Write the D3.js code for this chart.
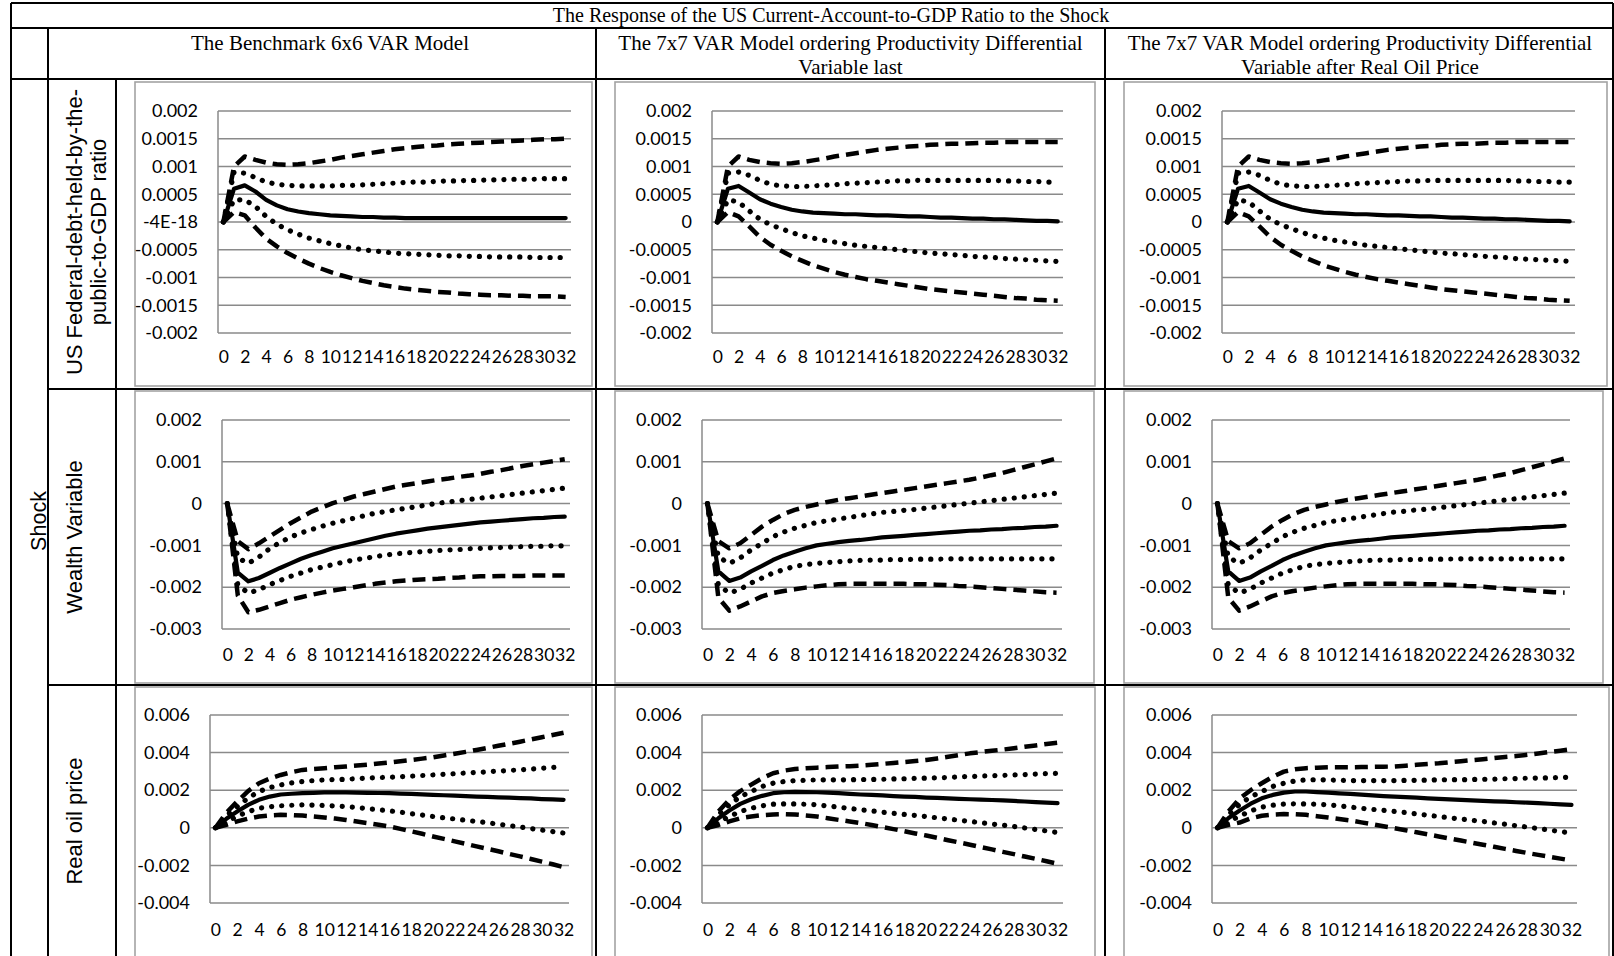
<!DOCTYPE html>
<html>
<head>
<meta charset="utf-8">
<script src="https://cdn.jsdelivr.net/npm/d3@7"></script>
<style>
  html, body { margin: 0; padding: 0; background: #fff; overflow: hidden; }
  svg { display: block; }
</style>
</head>
<body>
<svg id="fig" width="1614" height="956"></svg>
<script>
// ---------------------------------------------------------------------------
// Data: impulse responses of the US current-account-to-GDP ratio (horizons 0..32)
// irf = point estimate, hi1/lo1 = inner band (dotted), hi2/lo2 = outer band (dashed)
// ---------------------------------------------------------------------------
const periods = [0,1,2,3,4,5,6,7,8,9,10,11,12,13,14,15,16,17,18,19,20,21,22,23,24,25,26,27,28,29,30,31,32];
const xTickValues = [0,2,4,6,8,10,12,14,16,18,20,22,24,26,28,30,32];

const columnTitles = [
  ["The Benchmark 6x6 VAR Model"],
  ["The 7x7 VAR Model ordering Productivity Differential", "Variable last"],
  ["The 7x7 VAR Model ordering Productivity Differential", "Variable after Real Oil Price"]
];
const tableTitle = "The Response of the US Current-Account-to-GDP Ratio to the Shock";
const shockLabel = "Shock";
const rowLabels = [
  ["US Federal-debt-held-by-the-", "public-to-GDP ratio"],
  ["Wealth Variable"],
  ["Real oil price"]
];

// y-axis ticks per shock row
const debtTicks = [0.002, 0.0015, 0.001, 0.0005, 0, -0.0005, -0.001, -0.0015, -0.002];
const debtTickLabelsBench = ["0.002","0.0015","0.001","0.0005","-4E-18","-0.0005","-0.001","-0.0015","-0.002"];
const debtTickLabels = ["0.002","0.0015","0.001","0.0005","0","-0.0005","-0.001","-0.0015","-0.002"];
const wealthTicks = [0.002, 0.001, 0, -0.001, -0.002, -0.003];
const wealthTickLabels = ["0.002","0.001","0","-0.001","-0.002","-0.003"];
const oilTicks = [0.006, 0.004, 0.002, 0, -0.002, -0.004];
const oilTickLabels = ["0.006","0.004","0.002","0","-0.002","-0.004"];

// --- Federal debt shock, benchmark 6x6 VAR
const debt6_irf = [0,0.00060,0.00066,0.00055,0.00040,0.00030,0.00023,0.00019,0.00016,0.00014,0.00012,0.00011,0.00010,0.00009,0.00009,0.00008,0.00008,0.00007,0.00007,0.00007,0.00007,0.00007,0.00007,0.00007,0.00007,0.00007,0.00007,0.00007,0.00007,0.00007,0.00007,0.00007,0.00007];
const debt6_hi2 = [0,0.00100,0.00118,0.00112,0.00107,0.00104,0.00103,0.00104,0.00106,0.00109,0.00112,0.00116,0.00119,0.00122,0.00125,0.00128,0.00131,0.00133,0.00135,0.00137,0.00138,0.00140,0.00141,0.00142,0.00143,0.00144,0.00145,0.00146,0.00147,0.00148,0.00149,0.00149,0.00150];
const debt6_lo2 = [0,0.00018,0.00012,-0.00010,-0.00030,-0.00044,-0.00056,-0.00066,-0.00075,-0.00083,-0.00090,-0.00096,-0.00101,-0.00106,-0.00110,-0.00114,-0.00117,-0.00120,-0.00122,-0.00124,-0.00126,-0.00127,-0.00129,-0.00130,-0.00131,-0.00132,-0.00132,-0.00133,-0.00133,-0.00134,-0.00134,-0.00134,-0.00135];
const debt6_hi1 = [0,0.00090,0.00088,0.00080,0.00072,0.00068,0.00066,0.00065,0.00065,0.00065,0.00065,0.00066,0.00066,0.00067,0.00068,0.00069,0.00070,0.00071,0.00072,0.00072,0.00073,0.00074,0.00074,0.00075,0.00075,0.00076,0.00076,0.00077,0.00077,0.00077,0.00078,0.00078,0.00078];
const debt6_lo1 = [0,0.00040,0.00040,0.00028,0.00010,-0.00004,-0.00014,-0.00022,-0.00029,-0.00034,-0.00039,-0.00043,-0.00047,-0.00050,-0.00052,-0.00054,-0.00056,-0.00057,-0.00058,-0.00059,-0.00060,-0.00061,-0.00061,-0.00062,-0.00062,-0.00063,-0.00063,-0.00063,-0.00063,-0.00064,-0.00064,-0.00064,-0.00064];

// --- Federal debt shock, 7x7 VAR with productivity differential last
const debt7a_irf = [0,0.00060,0.00065,0.00053,0.00041,0.00033,0.00027,0.00022,0.00019,0.00017,0.00016,0.00015,0.00014,0.00014,0.00013,0.00012,0.00012,0.00011,0.00010,0.00010,0.00009,0.00008,0.00008,0.00007,0.00006,0.00006,0.00005,0.00005,0.00004,0.00003,0.00002,0.00002,0.00001];
const debt7a_hi2 = [0,0.00100,0.00118,0.00112,0.00108,0.00106,0.00105,0.00106,0.00108,0.00111,0.00114,0.00118,0.00121,0.00124,0.00127,0.00130,0.00132,0.00134,0.00136,0.00137,0.00139,0.00140,0.00141,0.00141,0.00142,0.00143,0.00143,0.00144,0.00144,0.00144,0.00144,0.00144,0.00144];
const debt7a_lo2 = [0,0.00018,0.00010,-0.00008,-0.00027,-0.00041,-0.00052,-0.00062,-0.00070,-0.00078,-0.00084,-0.00090,-0.00095,-0.00099,-0.00103,-0.00106,-0.00109,-0.00112,-0.00115,-0.00118,-0.00121,-0.00123,-0.00125,-0.00127,-0.00129,-0.00131,-0.00133,-0.00135,-0.00137,-0.00138,-0.00140,-0.00141,-0.00142];
const debt7a_hi1 = [0,0.00088,0.00090,0.00084,0.00075,0.00068,0.00065,0.00064,0.00064,0.00065,0.00066,0.00067,0.00069,0.00070,0.00071,0.00072,0.00073,0.00074,0.00074,0.00075,0.00075,0.00075,0.00075,0.00075,0.00075,0.00075,0.00075,0.00074,0.00074,0.00073,0.00073,0.00072,0.00072];
const debt7a_lo1 = [0,0.00040,0.00036,0.00020,0.00005,-0.00005,-0.00012,-0.00019,-0.00025,-0.00029,-0.00033,-0.00036,-0.00039,-0.00042,-0.00044,-0.00046,-0.00048,-0.00050,-0.00052,-0.00054,-0.00056,-0.00057,-0.00059,-0.00060,-0.00062,-0.00063,-0.00064,-0.00066,-0.00067,-0.00068,-0.00069,-0.00070,-0.00071];

// --- Federal debt shock, 7x7 VAR with productivity differential after oil price
const debt7b_irf = [0,0.00060,0.00065,0.00053,0.00041,0.00033,0.00027,0.00022,0.00019,0.00017,0.00016,0.00015,0.00014,0.00014,0.00013,0.00012,0.00012,0.00011,0.00010,0.00010,0.00009,0.00008,0.00008,0.00007,0.00006,0.00006,0.00005,0.00005,0.00004,0.00003,0.00002,0.00002,0.00001];
const debt7b_hi2 = [0,0.00100,0.00118,0.00112,0.00108,0.00106,0.00105,0.00106,0.00108,0.00111,0.00114,0.00118,0.00121,0.00124,0.00127,0.00130,0.00132,0.00134,0.00136,0.00137,0.00139,0.00140,0.00141,0.00141,0.00142,0.00143,0.00143,0.00144,0.00144,0.00144,0.00144,0.00144,0.00144];
const debt7b_lo2 = [0,0.00018,0.00010,-0.00008,-0.00027,-0.00041,-0.00052,-0.00062,-0.00070,-0.00078,-0.00084,-0.00090,-0.00095,-0.00099,-0.00103,-0.00106,-0.00109,-0.00112,-0.00115,-0.00118,-0.00121,-0.00123,-0.00125,-0.00127,-0.00129,-0.00131,-0.00133,-0.00135,-0.00137,-0.00138,-0.00140,-0.00141,-0.00142];
const debt7b_hi1 = [0,0.00088,0.00090,0.00084,0.00075,0.00068,0.00065,0.00064,0.00064,0.00065,0.00066,0.00067,0.00069,0.00070,0.00071,0.00072,0.00073,0.00074,0.00074,0.00075,0.00075,0.00075,0.00075,0.00075,0.00075,0.00075,0.00075,0.00074,0.00074,0.00073,0.00073,0.00072,0.00072];
const debt7b_lo1 = [0,0.00040,0.00036,0.00020,0.00005,-0.00005,-0.00012,-0.00019,-0.00025,-0.00029,-0.00033,-0.00036,-0.00039,-0.00042,-0.00044,-0.00046,-0.00048,-0.00050,-0.00052,-0.00054,-0.00056,-0.00057,-0.00059,-0.00060,-0.00062,-0.00063,-0.00064,-0.00066,-0.00067,-0.00068,-0.00069,-0.00070,-0.00071];

// --- Wealth shock, benchmark 6x6 VAR
const wealth6_irf = [0,-0.00165,-0.00186,-0.00178,-0.00166,-0.00154,-0.00143,-0.00132,-0.00123,-0.00115,-0.00107,-0.00101,-0.00095,-0.00089,-0.00083,-0.00077,-0.00072,-0.00068,-0.00064,-0.00060,-0.00057,-0.00054,-0.00051,-0.00048,-0.00045,-0.00043,-0.00041,-0.00039,-0.00037,-0.00035,-0.00034,-0.00032,-0.00031];
const wealth6_hi2 = [0,-0.00090,-0.00109,-0.00095,-0.00079,-0.00063,-0.00047,-0.00033,-0.00019,-0.00009,0.00001,0.00009,0.00017,0.00023,0.00029,0.00035,0.00041,0.00045,0.00049,0.00053,0.00057,0.00060,0.00064,0.00067,0.00071,0.00076,0.00080,0.00085,0.00090,0.00094,0.00098,0.00102,0.00106];
const wealth6_lo2 = [0,-0.00220,-0.00260,-0.00254,-0.00246,-0.00238,-0.00230,-0.00224,-0.00218,-0.00213,-0.00208,-0.00204,-0.00200,-0.00196,-0.00192,-0.00189,-0.00186,-0.00184,-0.00182,-0.00181,-0.00180,-0.00178,-0.00177,-0.00175,-0.00174,-0.00174,-0.00173,-0.00173,-0.00173,-0.00172,-0.00172,-0.00172,-0.00172];
const wealth6_hi1 = [0,-0.00130,-0.00143,-0.00128,-0.00108,-0.00093,-0.00080,-0.00070,-0.00062,-0.00054,-0.00047,-0.00041,-0.00035,-0.00029,-0.00023,-0.00019,-0.00015,-0.00011,-0.00007,-0.00003,0.00001,0.00004,0.00007,0.00010,0.00013,0.00016,0.00019,0.00022,0.00025,0.00028,0.00031,0.00034,0.00037];
const wealth6_lo1 = [0,-0.00195,-0.00214,-0.00206,-0.00194,-0.00184,-0.00174,-0.00166,-0.00158,-0.00152,-0.00146,-0.00140,-0.00135,-0.00131,-0.00127,-0.00123,-0.00120,-0.00118,-0.00116,-0.00114,-0.00112,-0.00111,-0.00110,-0.00108,-0.00107,-0.00106,-0.00105,-0.00104,-0.00103,-0.00102,-0.00102,-0.00101,-0.00101];

// --- Wealth shock, 7x7 VAR with productivity differential last
const wealth7a_irf = [0,-0.00162,-0.00185,-0.00177,-0.00162,-0.00149,-0.00135,-0.00124,-0.00115,-0.00107,-0.00100,-0.00096,-0.00092,-0.00089,-0.00087,-0.00084,-0.00081,-0.00079,-0.00077,-0.00075,-0.00073,-0.00071,-0.00069,-0.00067,-0.00065,-0.00064,-0.00062,-0.00061,-0.00059,-0.00058,-0.00056,-0.00055,-0.00053];
const wealth7a_hi2 = [0,-0.00090,-0.00107,-0.00095,-0.00075,-0.00055,-0.00039,-0.00025,-0.00015,-0.00008,-0.00002,0.00004,0.00009,0.00013,0.00017,0.00021,0.00025,0.00029,0.00033,0.00037,0.00041,0.00045,0.00049,0.00053,0.00057,0.00062,0.00068,0.00073,0.00080,0.00087,0.00094,0.00101,0.00108];
const wealth7a_lo2 = [0,-0.00225,-0.00256,-0.00246,-0.00234,-0.00222,-0.00214,-0.00209,-0.00205,-0.00201,-0.00198,-0.00195,-0.00193,-0.00192,-0.00192,-0.00192,-0.00192,-0.00192,-0.00192,-0.00193,-0.00193,-0.00194,-0.00195,-0.00197,-0.00198,-0.00200,-0.00202,-0.00204,-0.00206,-0.00208,-0.00210,-0.00212,-0.00213];
const wealth7a_hi1 = [0,-0.00128,-0.00143,-0.00130,-0.00111,-0.00095,-0.00079,-0.00068,-0.00059,-0.00052,-0.00045,-0.00041,-0.00037,-0.00033,-0.00029,-0.00025,-0.00021,-0.00019,-0.00016,-0.00014,-0.00011,-0.00008,-0.00005,-0.00002,0.00001,0.00004,0.00007,0.00010,0.00013,0.00016,0.00019,0.00022,0.00025];
const wealth7a_lo1 = [0,-0.00195,-0.00214,-0.00205,-0.00190,-0.00178,-0.00166,-0.00158,-0.00150,-0.00146,-0.00143,-0.00141,-0.00139,-0.00137,-0.00136,-0.00135,-0.00135,-0.00134,-0.00134,-0.00133,-0.00133,-0.00133,-0.00132,-0.00132,-0.00132,-0.00132,-0.00132,-0.00132,-0.00132,-0.00132,-0.00132,-0.00132,-0.00132];

// --- Wealth shock, 7x7 VAR with productivity differential after oil price
const wealth7b_irf = [0,-0.00162,-0.00185,-0.00177,-0.00162,-0.00149,-0.00135,-0.00124,-0.00115,-0.00107,-0.00100,-0.00096,-0.00092,-0.00089,-0.00087,-0.00084,-0.00081,-0.00079,-0.00077,-0.00075,-0.00073,-0.00071,-0.00069,-0.00067,-0.00065,-0.00064,-0.00062,-0.00061,-0.00059,-0.00058,-0.00056,-0.00055,-0.00053];
const wealth7b_hi2 = [0,-0.00090,-0.00107,-0.00095,-0.00075,-0.00055,-0.00039,-0.00025,-0.00015,-0.00008,-0.00002,0.00004,0.00009,0.00013,0.00017,0.00021,0.00025,0.00029,0.00033,0.00037,0.00041,0.00045,0.00049,0.00053,0.00057,0.00062,0.00068,0.00073,0.00080,0.00087,0.00094,0.00101,0.00108];
const wealth7b_lo2 = [0,-0.00225,-0.00256,-0.00246,-0.00234,-0.00222,-0.00214,-0.00209,-0.00205,-0.00201,-0.00198,-0.00195,-0.00193,-0.00192,-0.00192,-0.00192,-0.00192,-0.00192,-0.00192,-0.00193,-0.00193,-0.00194,-0.00195,-0.00197,-0.00198,-0.00200,-0.00202,-0.00204,-0.00206,-0.00208,-0.00210,-0.00212,-0.00213];
const wealth7b_hi1 = [0,-0.00128,-0.00143,-0.00130,-0.00111,-0.00095,-0.00079,-0.00068,-0.00059,-0.00052,-0.00045,-0.00041,-0.00037,-0.00033,-0.00029,-0.00025,-0.00021,-0.00019,-0.00016,-0.00014,-0.00011,-0.00008,-0.00005,-0.00002,0.00001,0.00004,0.00007,0.00010,0.00013,0.00016,0.00019,0.00022,0.00025];
const wealth7b_lo1 = [0,-0.00195,-0.00214,-0.00205,-0.00190,-0.00178,-0.00166,-0.00158,-0.00150,-0.00146,-0.00143,-0.00141,-0.00139,-0.00137,-0.00136,-0.00135,-0.00135,-0.00134,-0.00134,-0.00133,-0.00133,-0.00133,-0.00132,-0.00132,-0.00132,-0.00132,-0.00132,-0.00132,-0.00132,-0.00132,-0.00132,-0.00132,-0.00132];

// --- Real oil price shock, benchmark 6x6 VAR
const oil6_irf = [0,0.00048,0.00087,0.00122,0.00149,0.00166,0.00177,0.00181,0.00184,0.00186,0.00188,0.00188,0.00188,0.00187,0.00186,0.00185,0.00184,0.00182,0.00180,0.00178,0.00175,0.00173,0.00171,0.00168,0.00166,0.00164,0.00162,0.00160,0.00158,0.00156,0.00153,0.00151,0.00149];
const oil6_hi2 = [0,0.00080,0.00140,0.00195,0.00237,0.00262,0.00281,0.00296,0.00308,0.00313,0.00317,0.00322,0.00326,0.00331,0.00336,0.00342,0.00347,0.00354,0.00361,0.00368,0.00375,0.00385,0.00394,0.00404,0.00414,0.00425,0.00436,0.00447,0.00458,0.00470,0.00482,0.00494,0.00506];
const oil6_lo2 = [0,0.00016,0.00034,0.00049,0.00060,0.00066,0.00069,0.00068,0.00065,0.00060,0.00055,0.00049,0.00042,0.00033,0.00025,0.00016,0.00007,-0.00006,-0.00019,-0.00032,-0.00046,-0.00059,-0.00072,-0.00085,-0.00099,-0.00112,-0.00125,-0.00139,-0.00152,-0.00166,-0.00180,-0.00194,-0.00209];
const oil6_hi1 = [0,0.00064,0.00112,0.00158,0.00193,0.00214,0.00228,0.00239,0.00246,0.00251,0.00255,0.00257,0.00258,0.00261,0.00264,0.00267,0.00269,0.00272,0.00275,0.00278,0.00281,0.00284,0.00288,0.00291,0.00294,0.00298,0.00301,0.00305,0.00308,0.00312,0.00317,0.00321,0.00326];
const oil6_lo1 = [0,0.00032,0.00062,0.00086,0.00104,0.00112,0.00117,0.00120,0.00122,0.00121,0.00119,0.00116,0.00113,0.00108,0.00102,0.00096,0.00090,0.00083,0.00075,0.00068,0.00060,0.00053,0.00047,0.00040,0.00034,0.00027,0.00019,0.00012,0.00004,-0.00004,-0.00012,-0.00020,-0.00028];

// --- Real oil price shock, 7x7 VAR with productivity differential last
const oil7a_irf = [0,0.00051,0.00092,0.00127,0.00152,0.00170,0.00184,0.00189,0.00191,0.00190,0.00189,0.00187,0.00184,0.00180,0.00177,0.00175,0.00172,0.00169,0.00166,0.00164,0.00161,0.00159,0.00157,0.00154,0.00152,0.00150,0.00148,0.00146,0.00143,0.00140,0.00137,0.00134,0.00131];
const oil7a_hi2 = [0,0.00087,0.00150,0.00195,0.00230,0.00264,0.00290,0.00304,0.00313,0.00317,0.00320,0.00323,0.00326,0.00328,0.00331,0.00335,0.00340,0.00345,0.00350,0.00355,0.00361,0.00369,0.00378,0.00387,0.00396,0.00403,0.00410,0.00416,0.00423,0.00431,0.00438,0.00446,0.00453];
const oil7a_lo2 = [0,0.00015,0.00034,0.00051,0.00060,0.00067,0.00071,0.00073,0.00071,0.00066,0.00060,0.00051,0.00042,0.00034,0.00025,0.00015,0.00004,-0.00007,-0.00018,-0.00030,-0.00041,-0.00053,-0.00066,-0.00078,-0.00090,-0.00103,-0.00115,-0.00128,-0.00140,-0.00153,-0.00165,-0.00178,-0.00191];
const oil7a_hi1 = [0,0.00070,0.00122,0.00166,0.00193,0.00220,0.00237,0.00246,0.00251,0.00253,0.00255,0.00255,0.00255,0.00256,0.00257,0.00257,0.00258,0.00260,0.00261,0.00263,0.00264,0.00266,0.00268,0.00271,0.00273,0.00275,0.00277,0.00279,0.00281,0.00283,0.00286,0.00288,0.00290];
const oil7a_lo1 = [0,0.00032,0.00060,0.00087,0.00104,0.00117,0.00126,0.00127,0.00127,0.00125,0.00122,0.00116,0.00110,0.00103,0.00096,0.00090,0.00083,0.00077,0.00071,0.00066,0.00060,0.00053,0.00047,0.00040,0.00034,0.00027,0.00020,0.00014,0.00007,-0.00001,-0.00009,-0.00017,-0.00025];

// --- Real oil price shock, 7x7 VAR with productivity differential after oil price
const oil7b_irf = [0,0.00052,0.00092,0.00128,0.00157,0.00175,0.00187,0.00193,0.00193,0.00190,0.00187,0.00183,0.00180,0.00176,0.00172,0.00169,0.00166,0.00163,0.00160,0.00157,0.00154,0.00151,0.00149,0.00146,0.00143,0.00141,0.00139,0.00136,0.00134,0.00131,0.00128,0.00125,0.00122];
const oil7b_hi2 = [0,0.00088,0.00156,0.00200,0.00237,0.00272,0.00299,0.00311,0.00317,0.00320,0.00322,0.00322,0.00322,0.00323,0.00324,0.00325,0.00326,0.00330,0.00335,0.00339,0.00343,0.00349,0.00354,0.00360,0.00365,0.00371,0.00377,0.00382,0.00388,0.00395,0.00403,0.00410,0.00418];
const oil7b_lo2 = [0,0.00016,0.00028,0.00050,0.00064,0.00070,0.00073,0.00072,0.00069,0.00062,0.00055,0.00047,0.00039,0.00029,0.00019,0.00008,-0.00002,-0.00013,-0.00024,-0.00035,-0.00046,-0.00057,-0.00068,-0.00079,-0.00090,-0.00101,-0.00112,-0.00123,-0.00134,-0.00144,-0.00154,-0.00164,-0.00174];
const oil7b_hi1 = [0,0.00070,0.00125,0.00165,0.00193,0.00220,0.00237,0.00249,0.00255,0.00256,0.00255,0.00253,0.00251,0.00251,0.00251,0.00251,0.00251,0.00252,0.00253,0.00254,0.00255,0.00256,0.00256,0.00257,0.00258,0.00259,0.00261,0.00262,0.00264,0.00265,0.00266,0.00268,0.00269];
const oil7b_lo1 = [0,0.00034,0.00062,0.00090,0.00110,0.00120,0.00126,0.00128,0.00127,0.00125,0.00122,0.00117,0.00110,0.00104,0.00098,0.00093,0.00087,0.00081,0.00074,0.00067,0.00060,0.00053,0.00047,0.00040,0.00034,0.00026,0.00019,0.00011,0.00004,-0.00004,-0.00012,-0.00020,-0.00028];

// ---------------------------------------------------------------------------
// Table geometry
// ---------------------------------------------------------------------------
const TABLE = { left: 11, right: 1613, top: 3, titleBottom: 28, headBottom: 79 };
const colEdges = [116, 596, 1105, 1613];       // chart columns
const rowEdges = [79, 389, 685, 1000];         // shock rows
const shockColRight = 48;

const svg = d3.select("#fig");

// chart panels: box (outer frame) and plot area, per row / column
const panels = [
  // row 0: federal debt shock
  { r:0, c:0, box:[135,82,592,386], plot:[218,111,571,333], dom:[-0.002,0.002], ticks:debtTicks, labels:debtTickLabelsBench, xlab:24,
    s:{irf:debt6_irf, hi1:debt6_hi1, lo1:debt6_lo1, hi2:debt6_hi2, lo2:debt6_lo2} },
  { r:0, c:1, box:[615,82,1095,386], plot:[712,111,1063,333], dom:[-0.002,0.002], ticks:debtTicks, labels:debtTickLabels, xlab:24,
    s:{irf:debt7a_irf, hi1:debt7a_hi1, lo1:debt7a_lo1, hi2:debt7a_hi2, lo2:debt7a_lo2} },
  { r:0, c:2, box:[1124,82,1607,386], plot:[1222,111,1575,333], dom:[-0.002,0.002], ticks:debtTicks, labels:debtTickLabels, xlab:24,
    s:{irf:debt7b_irf, hi1:debt7b_hi1, lo1:debt7b_lo1, hi2:debt7b_hi2, lo2:debt7b_lo2} },
  // row 1: wealth shock
  { r:1, c:0, box:[135,391,592,683], plot:[222,420,570,629], dom:[-0.003,0.002], ticks:wealthTicks, labels:wealthTickLabels, xlab:26,
    s:{irf:wealth6_irf, hi1:wealth6_hi1, lo1:wealth6_lo1, hi2:wealth6_hi2, lo2:wealth6_lo2} },
  { r:1, c:1, box:[615,391,1094,683], plot:[702,420,1062,629], dom:[-0.003,0.002], ticks:wealthTicks, labels:wealthTickLabels, xlab:26,
    s:{irf:wealth7a_irf, hi1:wealth7a_hi1, lo1:wealth7a_lo1, hi2:wealth7a_hi2, lo2:wealth7a_lo2} },
  { r:1, c:2, box:[1124,391,1603,683], plot:[1212,420,1570,629], dom:[-0.003,0.002], ticks:wealthTicks, labels:wealthTickLabels, xlab:26,
    s:{irf:wealth7b_irf, hi1:wealth7b_hi1, lo1:wealth7b_lo1, hi2:wealth7b_hi2, lo2:wealth7b_lo2} },
  // row 2: real oil price shock
  { r:2, c:0, box:[135,687,592,980], plot:[210,715,569,903], dom:[-0.004,0.006], ticks:oilTicks, labels:oilTickLabels, xlab:27,
    s:{irf:oil6_irf, hi1:oil6_hi1, lo1:oil6_lo1, hi2:oil6_hi2, lo2:oil6_lo2} },
  { r:2, c:1, box:[615,687,1095,980], plot:[702,715,1063,903], dom:[-0.004,0.006], ticks:oilTicks, labels:oilTickLabels, xlab:27,
    s:{irf:oil7a_irf, hi1:oil7a_hi1, lo1:oil7a_lo1, hi2:oil7a_hi2, lo2:oil7a_lo2} },
  { r:2, c:2, box:[1124,687,1609,980], plot:[1212,715,1577,903], dom:[-0.004,0.006], ticks:oilTicks, labels:oilTickLabels, xlab:27,
    s:{irf:oil7b_irf, hi1:oil7b_hi1, lo1:oil7b_lo1, hi2:oil7b_hi2, lo2:oil7b_lo2} }
];

const GRID = "#8a8a8a", FRAME = "#a3a3a3";
const tickFont = "Lato, 'Open Sans', sans-serif";

function drawPanel(p) {
  const g = svg.append("g").attr("class", `panel r${p.r} c${p.c}`);
  const [bx0, by0, bx1, by1] = p.box;
  g.append("rect")
    .attr("x", bx0).attr("y", by0).attr("width", bx1 - bx0).attr("height", by1 - by0)
    .attr("fill", "#fff").attr("stroke", FRAME).attr("stroke-width", 1.6);

  const [px0, py0, px1, py1] = p.plot;
  const x = d3.scalePoint().domain(periods).range([px0, px1]).padding(0.5);
  const y = d3.scaleLinear().domain(p.dom).range([py1, py0]);

  // horizontal gridlines
  g.append("g").selectAll("line").data(p.ticks).join("line")
    .attr("x1", px0).attr("x2", px1)
    .attr("y1", d => y(d)).attr("y2", d => y(d))
    .attr("stroke", GRID).attr("stroke-width", 1.5);
  // value axis line
  g.append("line").attr("x1", px0).attr("x2", px0).attr("y1", py0).attr("y2", py1)
    .attr("stroke", GRID).attr("stroke-width", 1.5);

  // y tick labels
  const ya = g.append("g").attr("transform", `translate(${px0},0)`)
    .call(d3.axisLeft(y).tickValues(p.ticks).tickFormat((d, i) => p.labels[i]).tickSize(0).tickPadding(20));
  ya.select(".domain").remove();
  ya.selectAll("text").attr("font-family", tickFont).attr("font-size", 18).attr("fill", "#000");

  // x tick labels
  const xa = g.append("g").attr("transform", `translate(0,${py1})`)
    .call(d3.axisBottom(x).tickValues(xTickValues).tickSize(0).tickPadding(p.xlab - 6));
  xa.select(".domain").remove();
  xa.selectAll("text").attr("font-family", tickFont).attr("font-size", 17.5).attr("fill", "#000");

  const line = d3.line().x((d, i) => x(periods[i])).y(d => y(d)).curve(d3.curveLinear);
  const styles = {
    hi2: { w: 4.5, dash: "13 7", cap: "butt" },
    lo2: { w: 4.5, dash: "13 7", cap: "butt" },
    hi1: { w: 5.2, dash: "0.1 10", cap: "round" },
    lo1: { w: 5.2, dash: "0.1 10", cap: "round" },
    irf: { w: 4.2, dash: null, cap: "round" }
  };
  ["hi2", "lo2", "hi1", "lo1", "irf"].forEach(k => {
    const st = styles[k];
    g.append("path").datum(p.s[k])
      .attr("d", line)
      .attr("fill", "none").attr("stroke", "#000")
      .attr("stroke-width", st.w)
      .attr("stroke-linejoin", "round")
      .attr("stroke-linecap", st.cap)
      .attr("stroke-dasharray", st.dash);
  });
}

panels.forEach(drawPanel);

// ---------------------------------------------------------------------------
// Table rules and text
// ---------------------------------------------------------------------------
const rules = svg.append("g").attr("stroke", "#000").attr("stroke-width", 2);
const hline = (x1, x2, yv) => rules.append("line").attr("x1", x1).attr("x2", x2).attr("y1", yv).attr("y2", yv);
const vline = (xv, y1, y2) => rules.append("line").attr("x1", xv).attr("x2", xv).attr("y1", y1).attr("y2", y2);

hline(TABLE.left, TABLE.right, TABLE.top);
hline(TABLE.left, TABLE.right, TABLE.titleBottom);
hline(TABLE.left, TABLE.right, TABLE.headBottom);
hline(shockColRight, TABLE.right, rowEdges[1]);
hline(shockColRight, TABLE.right, rowEdges[2]);
vline(TABLE.left, TABLE.top, 956);
vline(TABLE.right, TABLE.top, 956);
vline(shockColRight, TABLE.titleBottom, 956);
vline(colEdges[0], TABLE.headBottom, 956);
vline(colEdges[1], TABLE.titleBottom, 956);
vline(colEdges[2], TABLE.titleBottom, 956);

const serif = "'Liberation Serif', 'Times New Roman', serif";
const sans = "'Liberation Sans', Arial, sans-serif";

svg.append("text")
  .attr("x", 831).attr("y", 22)
  .attr("text-anchor", "middle").attr("font-family", serif).attr("font-size", 20)
  .text(tableTitle);

const headCenters = [330, (colEdges[1] + colEdges[2]) / 2, (colEdges[2] + colEdges[3]) / 2 + 1];
columnTitles.forEach((lines, i) => {
  lines.forEach((t, j) => {
    svg.append("text")
      .attr("x", headCenters[i]).attr("y", 50 + j * 24)
      .attr("text-anchor", "middle").attr("font-family", serif).attr("font-size", 21)
      .text(t);
  });
});

// rotated row labels
const rowCenters = [232, 537, 821];
rowLabels.forEach((lines, i) => {
  const g = svg.append("g").attr("transform", `translate(82,${rowCenters[i]}) rotate(-90)`);
  lines.forEach((t, j) => {
    g.append("text").attr("x", 0).attr("y", j * 24)
      .attr("text-anchor", "middle").attr("font-family", sans).attr("font-size", 22)
      .text(t);
  });
});
svg.append("g").attr("transform", "translate(46,521) rotate(-90)")
  .append("text").attr("text-anchor", "middle").attr("font-family", sans).attr("font-size", 21.5)
  .text(shockLabel);
</script>
</body>
</html>
